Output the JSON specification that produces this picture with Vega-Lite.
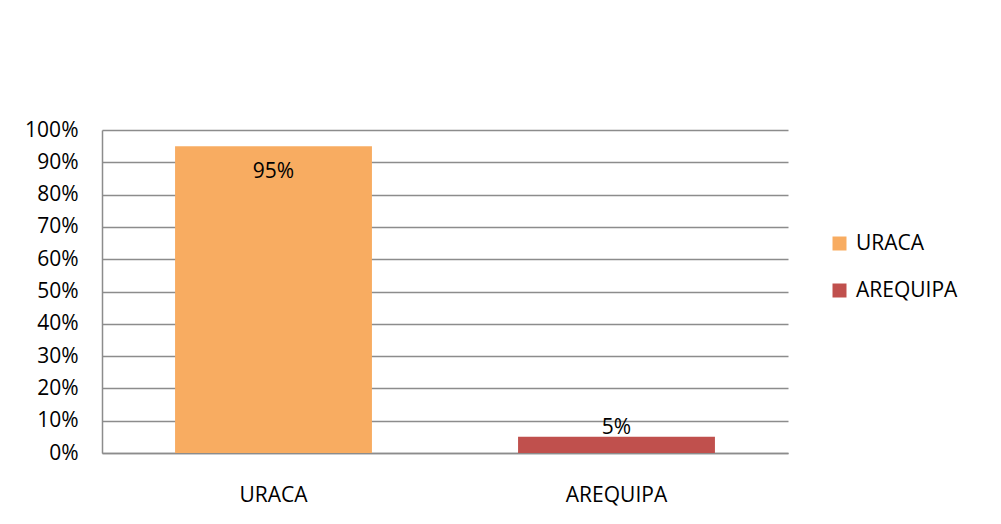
{
  "$schema": "https://vega.github.io/schema/vega-lite/v6.json",
  "width": 686,
  "height": 323,
  "autosize": "none",
  "padding": {"left": 102, "top": 130, "right": 213, "bottom": 71},
  "background": "white",
  "config": {"view": {"stroke": null}, "font": "Open Sans"},
  "data": {"values": [
    {"lugar": "URACA", "pct": 0.95},
    {"lugar": "AREQUIPA", "pct": 0.05}
  ]},
  "encoding": {
    "x": {
      "field": "lugar", "type": "nominal", "sort": ["URACA", "AREQUIPA"],
      "scale": {"paddingInner": 0.426, "paddingOuter": 0.213},
      "axis": {"title": null, "labelAngle": 0, "labelFontSize": 21, "labelColor": "#000", "labelPadding": 31, "ticks": false, "domain": true, "domainColor": "#8c8c8c", "domainWidth": 1.5}
    },
    "y": {
      "field": "pct", "type": "quantitative",
      "scale": {"domain": [0, 1]},
      "axis": {"title": null, "format": ".0%", "values": [0, 0.1, 0.2, 0.3, 0.4, 0.5, 0.6, 0.7, 0.8, 0.9, 1], "labelFontSize": 21, "labelColor": "#000", "labelPadding": 24, "ticks": false, "domain": true, "domainColor": "#8c8c8c", "domainWidth": 1.5, "grid": true, "gridColor": "#8c8c8c", "gridWidth": 1.5}
    }
  },
  "layer": [
    {
      "mark": {"type": "bar"},
      "encoding": {
        "color": {
          "field": "lugar", "type": "nominal",
          "scale": {"domain": ["URACA", "AREQUIPA"], "range": ["#F8AC61", "#C0504D"]},
          "legend": {"title": null, "orient": "none", "legendX": 727, "legendY": 103, "symbolType": "square", "symbolSize": 196, "symbolStrokeWidth": 0, "labelFontSize": 21, "labelColor": "#000", "labelOffset": 6, "rowPadding": 25}
        }
      }
    },
    {
      "transform": [{"filter": "datum.pct > 0.5"}],
      "mark": {"type": "text", "fontSize": 21, "color": "#000", "baseline": "middle", "align": "center", "dy": 26},
      "encoding": {"text": {"field": "pct", "type": "quantitative", "format": ".0%"}}
    },
    {
      "transform": [{"filter": "datum.pct <= 0.5"}],
      "mark": {"type": "text", "fontSize": 21, "color": "#000", "baseline": "middle", "align": "center", "dy": -9},
      "encoding": {"text": {"field": "pct", "type": "quantitative", "format": ".0%"}}
    }
  ]
}
